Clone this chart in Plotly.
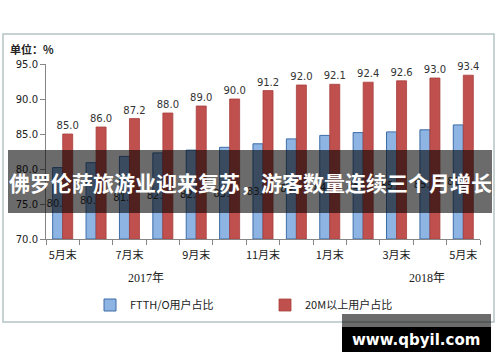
import plotly.graph_objects as go

months = ["5月末", "6月末", "7月末", "8月末", "9月末", "10月末", "11月末",
          "12月末", "1月末", "2月末", "3月末", "4月末", "5月末"]
ftth_values = [80.2, 80.9, 81.8, 82.3, 82.7, 83.1, 83.6, 84.3, 84.8, 85.2, 85.3, 85.6, 86.3]
m20_values = [85.0, 86.0, 87.2, 88.0, 89.0, 90.0, 91.2, 92.0, 92.1, 92.4, 92.6, 93.0, 93.4]
tick_idx = [0, 2, 4, 6, 8, 10, 12]
year_labels = ["2017年", "2018年"]
series_names = ["FTTH/O用户占比", "20M以上用户占比"]
title_text = "佛罗伦萨旅游业迎来复苏，游客数量连续三个月增长"
watermark = "www.qbyil.com"

W, H = 500, 362
ML, MR, MT, MB = 46, 20, 64, 123
PW, PH = W - ML - MR, H - MT - MB


def pxx(p):
    return (p - ML) / PW


def pxy(p):
    return (H - MB - p) / PH


x = list(range(len(months)))
num_font = "DejaVu Sans"
cjk = "Noto Sans CJK SC"

fig = go.Figure()
fig.add_trace(go.Bar(
    x=x, y=[v - 70 for v in ftth_values], base=70, name=series_names[0],
    width=0.3, offset=-0.3,
    marker=dict(color="#8db4e2", line=dict(color="#3d6da8", width=1)),
    text=[f"{v:.1f}" for v in ftth_values], textposition="inside",
    insidetextanchor="middle", textangle=0, constraintext="none",
    insidetextfont=dict(family=num_font, size=10, color="#333333"),
    hoverinfo="skip",
))
fig.add_trace(go.Bar(
    x=x, y=[v - 70 for v in m20_values], base=70, name=series_names[1],
    width=0.3, offset=0,
    marker=dict(color="#c0504d", line=dict(color="#a8403d", width=0.8)),
    text=[f"{v:.1f}" for v in m20_values], textposition="outside",
    textangle=0, constraintext="none", cliponaxis=False,
    outsidetextfont=dict(family=num_font, size=10, color="#333333"),
    hoverinfo="skip",
))

shapes = [
    # outer border
    dict(type="rect", xref="paper", yref="paper", x0=pxx(3), x1=pxx(494),
         y0=pxy(34), y1=pxy(322), line=dict(color="#b4c2c2", width=1.5),
         fillcolor="rgba(0,0,0,0)", layer="below"),
    # banner
    dict(type="rect", xref="paper", yref="paper", x0=pxx(8), x1=pxx(492),
         y0=pxy(150), y1=pxy(213), line=dict(width=0),
         fillcolor="rgba(0,0,0,0.58)", layer="above"),
    # watermark boxes
    dict(type="rect", xref="paper", yref="paper", x0=pxx(342), x1=pxx(491),
         y0=pxy(314), y1=pxy(327), line=dict(width=0),
         fillcolor="rgba(0,0,0,0.58)", layer="above"),
    dict(type="rect", xref="paper", yref="paper", x0=pxx(342), x1=pxx(491),
         y0=pxy(327), y1=pxy(352), line=dict(width=0),
         fillcolor="#000000", layer="above"),
]

annotations = [
    dict(text="<b>单位：%</b>", xref="paper", yref="paper", x=pxx(8), y=pxy(49),
         xanchor="left", yanchor="middle", showarrow=False,
         font=dict(family=cjk, size=11, color="#222222")),
    dict(text=year_labels[0], xref="x", yref="paper", x=2.5, y=pxy(278),
         xanchor="center", yanchor="middle", showarrow=False,
         font=dict(family="Liberation Serif, Noto Sans CJK SC", size=12, color="#222222")),
    dict(text=year_labels[1], xref="x", yref="paper", x=10.9, y=pxy(278),
         xanchor="center", yanchor="middle", showarrow=False,
         font=dict(family="Liberation Serif, Noto Sans CJK SC", size=12, color="#222222")),
    dict(text=f"<b>{title_text}</b>", xref="paper", yref="paper", x=pxx(250), y=pxy(182),
         xanchor="center", yanchor="middle", showarrow=False,
         font=dict(family=cjk, size=21, color="#ffffff")),
    dict(text=f"<b>{watermark}</b>", xref="paper", yref="paper", x=pxx(416), y=pxy(340),
         xanchor="center", yanchor="middle", showarrow=False,
         font=dict(family="DejaVu Sans", size=15, color="#ffffff")),
]

fig.update_layout(
    width=W, height=H, margin=dict(l=ML, r=MR, t=MT, b=MB, autoexpand=False),
    paper_bgcolor="#ffffff", plot_bgcolor="#ffffff",
    barmode="overlay", showlegend=True,
    legend=dict(orientation="h", x=pxx(90), y=pxy(305), xanchor="left", yanchor="middle",
                font=dict(family=cjk, size=11, color="#222222"),
                entrywidth=130, entrywidthmode="pixels", itemwidth=30,
                bgcolor="rgba(0,0,0,0)"),
    shapes=shapes, annotations=annotations,
    xaxis=dict(range=[-0.5, 12.5], tickmode="array", tickvals=tick_idx,
               ticktext=[months[i] for i in tick_idx], ticks="", showline=True,
               linecolor="#868686", linewidth=1, showgrid=False, zeroline=False,
               ticklabelstandoff=6,
               tickfont=dict(family=cjk, size=11, color="#222222"),
               minor=dict(tick0=-0.5, dtick=1, ticks="outside", ticklen=5,
                          tickcolor="#868686", showgrid=False)),
    yaxis=dict(range=[70, 95], dtick=5, tickformat=".1f", showline=True,
               linecolor="#868686", linewidth=1, ticks="outside", ticklen=5,
               tickcolor="#868686", showgrid=False, zeroline=False,
               tickfont=dict(family=num_font, size=10, color="#222222")),
)

fig.write_html("out.html", config={"displayModeBar": False},
               post_script="document.body.style.margin='0';document.body.style.padding='0';")
